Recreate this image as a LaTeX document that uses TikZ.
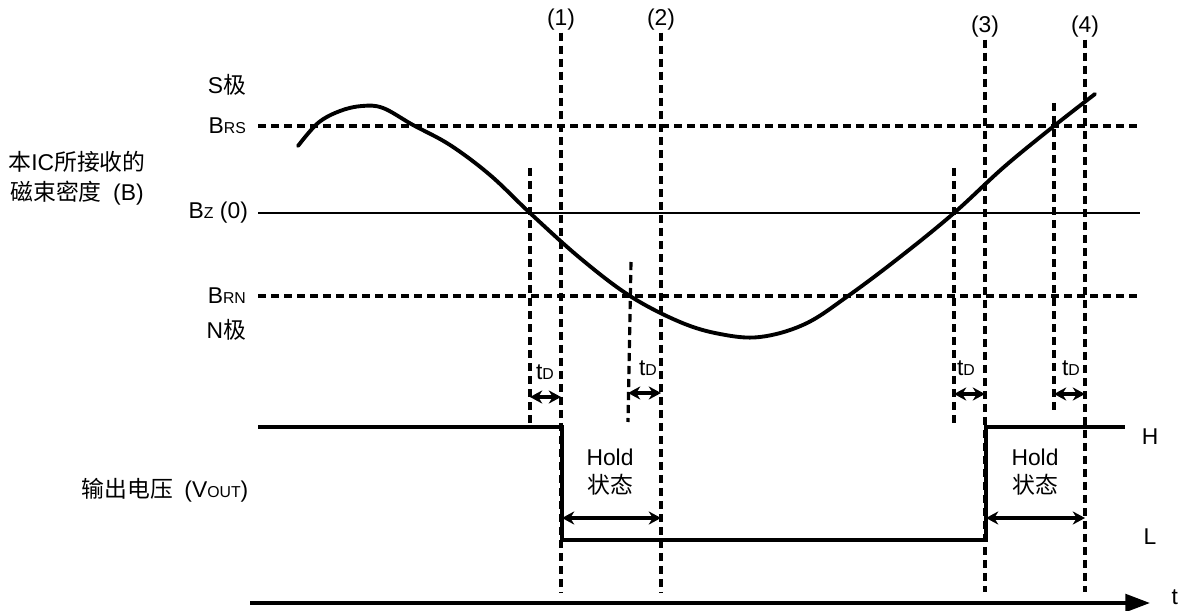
\documentclass[tikz,border=0pt]{standalone}
\usepackage{fontspec}
\setmainfont{Liberation Sans}
\newfontfamily\cjk{Noto Sans CJK SC}
\usetikzlibrary{arrows.meta}
\newcommand{\lowtxt}[1]{{\fontsize{9}{10}\selectfont #1}}
\tikzset{
  lbl/.style={font=\fontsize{13}{15}\selectfont, inner sep=1pt, align=center},
  level/.style={draw=black, line width=2.1pt},
  zeroline/.style={draw=black, line width=0.9pt},
  guide/.style={draw=black, line width=1.8pt, dash pattern=on 4.6pt off 2.8pt},
  span/.style={{Stealth[length=7pt,width=7.5pt]}-{Stealth[length=7pt,width=7.5pt]}, line width=1.8pt},
  wave/.style={line width=2.2pt, line join=round, line cap=round},
  taxis/.style={-{Triangle[length=14pt,width=10pt]}, line width=2pt}
}
\begin{document}
\begin{tikzpicture}[x=0.02cm, y=-0.02cm]
  \useasboundingbox (0,0) rectangle (1187,611);
  % level labels
  \node[lbl, anchor=east] (spole) at (248,85) {S{\cjk 极}};
  \node[lbl, anchor=east] (brs) at (248,126) {B\lowtxt{RS}};
  \node[lbl, anchor=east] (bz) at (250,213) {B\lowtxt{Z} (0)};
  \node[lbl, anchor=east] (brn) at (248,296) {B\lowtxt{RN}};
  \node[lbl, anchor=east] (npole) at (248,330) {N{\cjk 极}};
  \node[lbl] (bname) at (77,178) {{\cjk 本}IC{\cjk 所接收的}\\[2pt]{\cjk 磁束密度}\enspace(B)};
  \node[lbl] (vname) at (165,490) {{\cjk 输出电压}\enspace(V\lowtxt{OUT})};
  \node[lbl] (hlvl) at (1150,437) {H};
  \node[lbl] (llvl) at (1150,537) {L};
  \node[lbl, anchor=east] (tlbl) at (1180,597) {t};
  % threshold lines
  \coordinate (xl) at (258,0);
  \coordinate (xr) at (1140,0);
  \draw[guide] (brs.east -| xl) -- (brs.east -| xr);
  \draw[zeroline] (bz.east -| xl) -- (bz.east -| xr);
  \draw[guide] (brn.east -| xl) -- (brn.east -| xr);
  % flux density
  \draw[wave] plot[smooth, tension=0.6] coordinates {(298,146) (318,123) (340,111) (362,106) (383,108) (413,125) (450,145) (490,175) (530,213) (580,258) (630,296) (680,322) (720,334) (760,337) (805,324) (848,296) (900,257) (954,213) (1004,167) (1054,126) (1095,94)};
  % event markers
  \node[lbl] (e1) at (561,20) {(1)};
  \node[lbl] (e2) at (661,20) {(2)};
  \node[lbl] (e3) at (985,27) {(3)};
  \node[lbl] (e4) at (1085,27) {(4)};
  \coordinate (bot) at (0,592);
  \draw[guide] (e1.south) -- (e1.south |- bot);
  \draw[guide] (e2.south) -- (e2.south |- bot);
  \draw[guide] (e3.south) -- (e3.south |- bot);
  \draw[guide] (e4.south) -- (e4.south |- bot);
  \coordinate (c1t) at (530,168);  \coordinate (c1b) at (530,428);
  \coordinate (c2t) at (631,262);  \coordinate (c2b) at (628,422);
  \coordinate (c3t) at (954,168);  \coordinate (c3b) at (954,426);
  \coordinate (c4t) at (1054,103); \coordinate (c4b) at (1054,415);
  \draw[guide] (c1t) -- (c1b);
  \draw[guide] (c2t) -- (c2b);
  \draw[guide] (c3t) -- (c3b);
  \draw[guide] (c4t) -- (c4b);
  % delay spans
  \draw[span] (530,397) -- (561,397);
  \draw[span] (628,393) -- (661,393);
  \draw[span] (954,394) -- (985,394);
  \draw[span] (1054,394) -- (1085,394);
  \node[lbl] (td1) at (545,372) {t\lowtxt{D}};
  \node[lbl] (td2) at (648,368) {t\lowtxt{D}};
  \node[lbl] (td3) at (966,368) {t\lowtxt{D}};
  \node[lbl] (td4) at (1071,368) {t\lowtxt{D}};
  % output
  \draw[level] (258,427) -- (562,427) -- (562,540) -- (986,540) -- (986,427) -- (1125,427);
  \draw[span] (562,518) -- (661,518);
  \draw[span] (986,518) -- (1085,518);
  \node[lbl] (hold1) at (610,472) {Hold\\[1pt]{\cjk 状态}};
  \node[lbl] (hold2) at (1035,472) {Hold\\[1pt]{\cjk 状态}};
  % time axis
  \draw[taxis] (250,603) -- (1150,603);
\end{tikzpicture}
\end{document}
